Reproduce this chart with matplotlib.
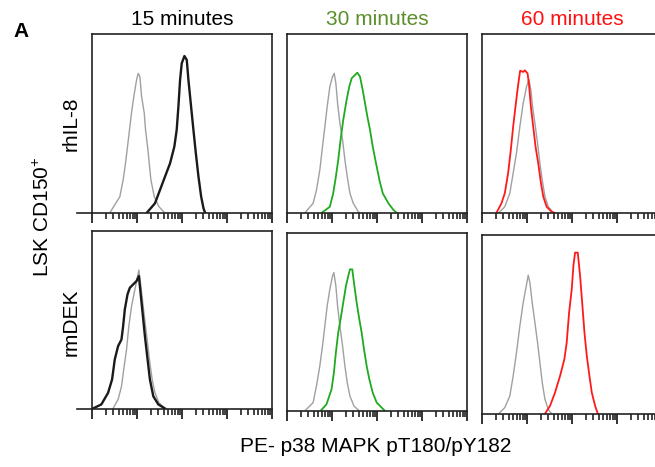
import matplotlib.pyplot as plt
import numpy as np
from matplotlib.ticker import LogLocator, NullFormatter

plt.rcParams['font.family'] = ['Liberation Sans', 'DejaVu Sans']
plt.rcParams['font.size'] = 15
plt.rcParams['mathtext.default'] = 'regular'

titles = ['15 minutes', '30 minutes', '60 minutes']
title_colors = ['black', '#5b8f2a', '#ff1010']
row_labels = ['rhIL-8', 'rmDEK']
stim_colors = ['#1a1a1a', '#1faa1f', '#ff1a1a']
ctrl_color = '#a0a0a0'

# x = log10 PE intensity, y = % of max count
# rhIL-8, 15 min
ctrl_a1_x = [0.394, 0.618, 0.692, 0.744, 0.789, 0.833, 0.878, 0.930, 0.990, 1.027,
             1.064, 1.101, 1.161, 1.190, 1.235, 1.272, 1.310, 1.384, 1.488, 1.622]
ctrl_a1_y = [0, 9.1, 18.4, 27.7, 37.1, 46.4, 55.9, 65.2, 74.3, 78.0,
             76.2, 65.2, 55.9, 46.4, 37.1, 27.7, 18.4, 9.1, 3.5, 0]
stim_a1_x = [1.213, 1.399, 1.510, 1.622, 1.734, 1.830, 1.882, 1.920, 1.957, 1.994,
             2.054, 2.106, 2.143, 2.202, 2.254, 2.307, 2.366, 2.426, 2.478, 2.515]
stim_a1_y = [0, 5.4, 12.8, 20.3, 27.7, 37.1, 46.4, 59.4, 74.3, 83.6,
             87.7, 85.5, 74.3, 59.4, 46.4, 33.5, 20.3, 9.1, 2.6, 0]

# rhIL-8, 30 min
ctrl_a2_x = [0.394, 0.580, 0.655, 0.729, 0.789, 0.841, 0.893, 0.952, 1.012, 1.049,
             1.086, 1.124, 1.176, 1.235, 1.287, 1.339, 1.399, 1.473, 1.585, 1.622]
ctrl_a2_y = [0, 5.4, 12.8, 24.0, 37.1, 48.2, 59.4, 70.6, 76.2, 78.0,
             72.4, 61.3, 50.1, 40.8, 29.6, 20.3, 11.0, 5.4, 0.7, 0]
stim_a2_x = [0.766, 0.952, 1.027, 1.086, 1.138, 1.190, 1.250, 1.324, 1.384, 1.436,
             1.510, 1.563, 1.622, 1.682, 1.734, 1.786, 1.845, 1.905, 1.979, 2.054,
             2.128, 2.254, 2.366, 2.440]
stim_a2_y = [0, 3.5, 11.0, 20.3, 29.6, 40.8, 52.0, 63.1, 70.6, 75.2,
             77.1, 78.4, 76.2, 68.7, 61.3, 53.8, 46.4, 37.1, 27.7, 18.4,
             11.0, 5.4, 1.7, 0]

# rhIL-8, 60 min
ctrl_a3_x = [0.372, 0.506, 0.618, 0.692, 0.766, 0.841, 0.915, 0.990, 1.042, 1.086,
             1.124, 1.176, 1.235, 1.287, 1.339, 1.399, 1.473, 1.585]
ctrl_a3_y = [0, 3.5, 11.0, 22.2, 33.5, 48.2, 61.3, 70.6, 74.7, 68.7,
             59.4, 50.1, 38.9, 27.7, 18.4, 9.1, 3.5, 0]
stim_a3_x = [0.320, 0.432, 0.506, 0.580, 0.640, 0.692, 0.744, 0.789, 0.818, 0.848,
             0.915, 0.952, 1.012, 1.042, 1.086, 1.138, 1.190, 1.250, 1.310, 1.362,
             1.436, 1.548, 1.622]
stim_a3_y = [0, 5.4, 11.0, 22.2, 35.2, 48.2, 59.4, 68.7, 74.3, 79.5,
             78.8, 79.7, 78.0, 72.4, 59.4, 48.2, 37.1, 27.7, 16.6, 9.1,
             3.5, 0.7, 0]

# rmDEK, 15 min
ctrl_b1_x = [0.469, 0.580, 0.655, 0.714, 0.766, 0.818, 0.878, 0.952, 1.012, 1.042,
             1.086, 1.138, 1.190, 1.235, 1.287, 1.339, 1.399, 1.488, 1.622]
ctrl_b1_y = [0, 5.1, 12.4, 23.6, 33.0, 46.1, 57.4, 66.8, 74.3, 77.9,
             68.9, 57.4, 46.1, 36.6, 25.3, 16.0, 8.8, 3.2, 0]
stim_b1_x = [0.022, 0.208, 0.357, 0.446, 0.506, 0.580, 0.655, 0.692, 0.729, 0.789,
             0.841, 0.915, 0.990, 1.042, 1.079, 1.124, 1.176, 1.235, 1.287, 1.362,
             1.473, 1.622]
stim_b1_y = [0, 2.3, 8.8, 16.3, 27.6, 35.1, 38.8, 46.3, 55.7, 64.2,
             67.9, 69.8, 71.7, 74.5, 65.1, 53.8, 40.7, 27.6, 16.3, 6.9,
             2.3, 0]

# rmDEK, 30 min
ctrl_b2_x = [0.394, 0.580, 0.655, 0.729, 0.789, 0.841, 0.893, 0.952, 1.012, 1.042,
             1.086, 1.124, 1.176, 1.235, 1.287, 1.339, 1.399, 1.488, 1.607]
ctrl_b2_y = [0, 4.7, 14.1, 25.3, 36.6, 47.8, 59.1, 68.5, 76.0, 77.9,
             70.4, 59.1, 47.8, 36.6, 25.3, 15.9, 8.4, 2.8, 0]
stim_b2_x = [0.744, 0.878, 0.990, 1.042, 1.086, 1.138, 1.190, 1.250, 1.310, 1.362,
             1.399, 1.451, 1.488, 1.548, 1.607, 1.659, 1.711, 1.771, 1.830, 1.905,
             1.994, 2.143, 2.180]
stim_b2_y = [0, 3.8, 12.2, 21.6, 32.8, 44.1, 51.6, 61.0, 70.4, 76.0,
             79.7, 79.7, 72.2, 61.0, 51.6, 44.1, 34.7, 25.3, 17.8, 10.3,
             4.7, 0.9, 0]

# rmDEK, 60 min
ctrl_b3_x = [0.372, 0.506, 0.618, 0.692, 0.766, 0.841, 0.915, 0.990, 1.027, 1.064,
             1.116, 1.176, 1.235, 1.287, 1.339, 1.399, 1.473, 1.548]
ctrl_b3_y = [0, 3.4, 9.9, 21.1, 34.2, 49.2, 62.2, 72.5, 77.6, 73.5,
             62.2, 51.0, 39.8, 28.6, 17.4, 8.0, 2.4, 0]
stim_b3_x = [1.399, 1.510, 1.622, 1.734, 1.830, 1.882, 1.935, 1.994, 2.031, 2.068,
             2.128, 2.180, 2.232, 2.277, 2.329, 2.388, 2.440, 2.515, 2.574]
stim_b3_y = [0, 4.3, 11.8, 21.1, 30.5, 39.8, 56.6, 69.7, 82.8, 90.3,
             90.3, 77.2, 60.4, 45.4, 32.3, 21.1, 11.8, 4.3, 0]

ctrl = [[(ctrl_a1_x, ctrl_a1_y), (ctrl_a2_x, ctrl_a2_y), (ctrl_a3_x, ctrl_a3_y)],
        [(ctrl_b1_x, ctrl_b1_y), (ctrl_b2_x, ctrl_b2_y), (ctrl_b3_x, ctrl_b3_y)]]
stim = [[(stim_a1_x, stim_a1_y), (stim_a2_x, stim_a2_y), (stim_a3_x, stim_a3_y)],
        [(stim_b1_x, stim_b1_y), (stim_b2_x, stim_b2_y), (stim_b3_x, stim_b3_y)]]

W, H = 655, 467
fig = plt.figure(figsize=(W / 100, H / 100), dpi=100)

lefts = [92, 287, 482]
bases = [[213, 213, 213], [408.5, 411, 413.7]]
tops = [[34, 34, 34], [230.7, 233.3, 235.3]]
frame = '#222222'

for r in range(2):
    for c in range(3):
        ax = fig.add_axes([lefts[c] / W, 1 - bases[r][c] / H,
                           180 / W, (bases[r][c] - tops[r][c]) / H])
        cx, cy = ctrl[r][c]
        sx, sy = stim[r][c]
        ax.plot(10 ** np.array(cx), cy, color=ctrl_color, lw=1.0)
        ax.plot(10 ** np.array(sx), sy, color=stim_colors[c],
                lw=1.7 if c == 0 else 1.3)
        ax.set_xscale('log')
        ax.set_xlim(1, 1e4)
        ax.set_ylim(0, 100)
        ax.xaxis.set_major_locator(LogLocator(base=10, numticks=20))
        ax.xaxis.set_minor_locator(LogLocator(base=10, subs=np.arange(2, 10),
                                              numticks=20))
        ax.xaxis.set_minor_formatter(NullFormatter())
        ax.tick_params(axis='x', which='major', direction='out', length=7,
                       width=1.3, color=frame, labelbottom=False)
        ax.tick_params(axis='x', which='minor', direction='out', length=4.2,
                       width=1.2, color=frame)
        ax.tick_params(axis='y', left=False, labelleft=False)
        for s in ax.spines.values():
            s.set_color(frame)
            s.set_linewidth(1.2)
        if c == 0:
            ax.plot([-0.085, 0], [0, 0], transform=ax.transAxes,
                    clip_on=False, color=frame, lw=1.2)

def px(x, y):
    return x / W, 1 - y / H

for c in range(3):
    fig.text(*px(lefts[c] + 90, 25), titles[c], color=title_colors[c],
             ha='center', va='baseline')

fig.text(*px(13, 37), 'A', fontweight='bold', fontsize=15, ha='left', va='baseline')
fig.text(*px(71, 124), row_labels[0], rotation=90, ha='center', va='center')
fig.text(*px(71, 322), row_labels[1], rotation=90, ha='center', va='center')
fig.text(*px(43, 217), 'LSK CD150$^{+}$', rotation=90, ha='center', va='center')
fig.text(*px(376, 452), 'PE- p38 MAPK pT180/pY182', ha='center', va='baseline')

fig.savefig('out.png', dpi=100)
